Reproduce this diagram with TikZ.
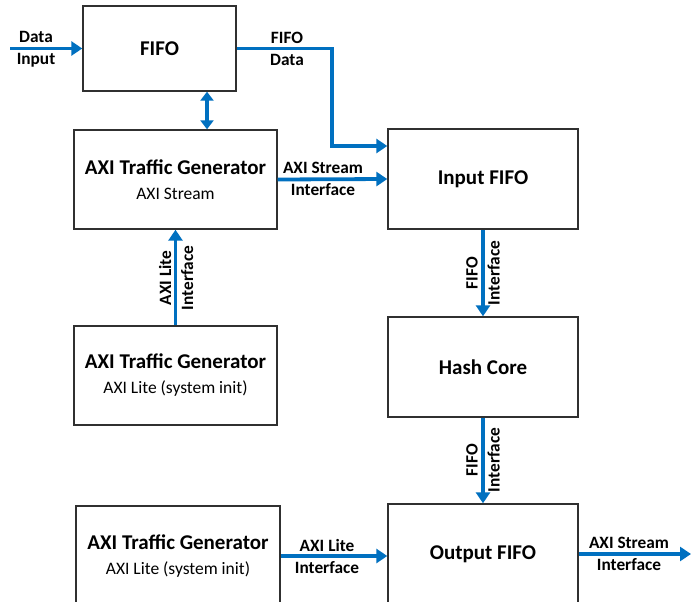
\documentclass[tikz,border=0pt]{standalone}
\usepackage{fontspec}
\setmainfont{Carlito}
\usetikzlibrary{arrows.meta,calc}
\definecolor{lnblue}{HTML}{0070C0}
\definecolor{boxgray}{HTML}{303030}
\newcommand{\ttlfont}{\fontsize{21}{25}\selectfont\bfseries}
\newcommand{\subfnt}{\fontsize{17.5}{25}\selectfont}
\newcommand{\lblfont}{\fontsize{17.3}{22}\selectfont\bfseries}
\begin{document}
\begin{tikzpicture}[x=1pt,y=-1pt,
  blk/.style={draw=boxgray,line width=1.4pt,rectangle,inner sep=0pt,align=center,font=\subfnt},
  arr/.style={draw=lnblue,line width=3.8pt,-{Triangle[length=11pt,width=14pt]}},
  darr/.style={draw=lnblue,line width=3.8pt,{Triangle[length=9pt,width=13pt]}-{Triangle[length=9pt,width=13pt]}},
  lbl/.style={font=\lblfont,align=center,inner sep=0pt,text=black}]
\useasboundingbox[fill=white] (0,0) rectangle (699,602);
\clip (0,0) rectangle (699,602);
% blocks
\node[blk,minimum width=153pt,minimum height=85pt] (fifo) at (159.5,48.5) {\ttlfont FIFO};
\node[blk,minimum width=203pt,minimum height=99pt] (axis) at (175.5,179.5)
  {{\ttlfont AXI Traffic Generator}\\AXI Stream};
\node[blk,minimum width=203pt,minimum height=99pt] (lite1) at (175.5,375.5)
  {{\ttlfont AXI Traffic Generator}\\AXI Lite (system init)};
\node[blk,minimum width=204pt,minimum height=100pt] (lite2) at (178,556)
  {{\ttlfont AXI Traffic Generator}\\AXI Lite (system init)};
\node[blk,minimum width=190pt,minimum height=100pt] (infifo) at (483,179) {\ttlfont Input FIFO};
\node[blk,minimum width=190pt,minimum height=100pt] (hash) at (483,367) {\ttlfont Hash Core};
\node[blk,minimum width=190pt,minimum height=100pt] (outfifo) at (483,554) {\ttlfont Output FIFO};
% helper coordinates
\coordinate (din) at (10,48.5);
\coordinate (bend) at (332,146);
\coordinate (xdbl) at (207,0);
\coordinate (dout) at (691,554);
% connectors
\draw[arr] (din) -- (fifo.west);
\draw[arr] (fifo.east) -| (bend) -- (bend -| infifo.west);
\draw[darr] (fifo.south -| xdbl) -- (axis.north -| xdbl);
\draw[arr] (axis.east) -- (infifo.west);
\draw[arr] (lite1.north) -- (axis.south);
\draw[arr] (infifo.south) -- (hash.north);
\draw[arr] (hash.south) -- (outfifo.north);
\draw[arr] (lite2.east) -- (lite2.east -| outfifo.west);
\draw[arr] (outfifo.east) -- (dout);
% labels
\node[lbl] (ldin) at (36,49) {Data\\Input};
\node[lbl] (lfd) at (287,49) {FIFO\\Data};
\node[lbl] (laxs) at (323,179) {AXI Stream\\Interface};
\node[lbl,rotate=90] (lal) at (176,278) {AXI Lite\\Interface};
\node[lbl,rotate=90] (lfi1) at (483,273) {FIFO\\Interface};
\node[lbl,rotate=90] (lfi2) at (483,460) {FIFO\\Interface};
\node[lbl] (lal2) at (327,556) {AXI Lite\\Interface};
\node[lbl] (laso) at (629,554) {AXI Stream\\Interface};
\end{tikzpicture}
\end{document}
